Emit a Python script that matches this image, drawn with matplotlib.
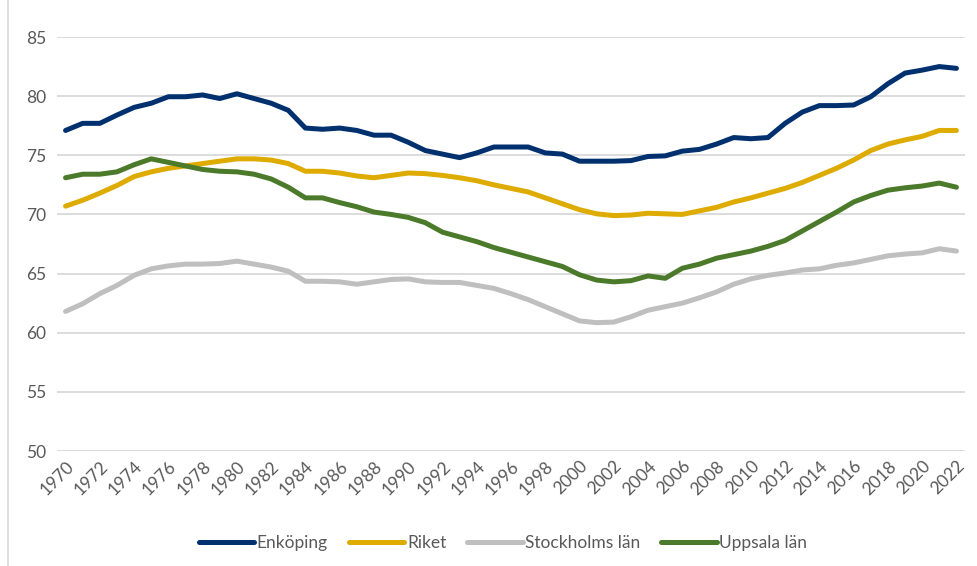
import matplotlib
matplotlib.use('Agg')
import matplotlib.pyplot as plt
from matplotlib.lines import Line2D

years = list(range(1970, 2023))

enkoping = [
    77.1, 77.7, 77.7, 78.4, 79.05, 79.4, 79.95, 79.95, 80.1, 79.8,
    80.2, 79.8, 79.4, 78.8, 77.3, 77.2, 77.3, 77.1, 76.7, 76.7,
    76.1, 75.4, 75.1, 74.8, 75.2, 75.7, 75.7, 75.7, 75.2, 75.1,
    74.5, 74.5, 74.5, 74.55, 74.9, 74.95, 75.35, 75.5, 75.95, 76.5,
    76.4, 76.5, 77.7, 78.65, 79.2, 79.2, 79.25, 79.95, 81.05, 81.95,
    82.2, 82.5, 82.35
]
riket = [
    70.7, 71.2, 71.8, 72.45, 73.2, 73.6, 73.9, 74.1, 74.3, 74.5,
    74.7, 74.7, 74.6, 74.3, 73.65, 73.65, 73.5, 73.25, 73.1, 73.3,
    73.5, 73.45, 73.3, 73.1, 72.85, 72.5, 72.2, 71.9, 71.4, 70.9,
    70.4, 70.05, 69.9, 69.95, 70.1, 70.05, 70.0, 70.3, 70.6, 71.05,
    71.4, 71.8, 72.2, 72.7, 73.3, 73.9, 74.6, 75.4, 75.95, 76.3,
    76.6, 77.1, 77.1
]
stockholm = [
    61.8, 62.45, 63.3, 64.0, 64.85, 65.4, 65.65, 65.8, 65.8, 65.85,
    66.05, 65.8, 65.55, 65.2, 64.35, 64.35, 64.3, 64.1, 64.3, 64.5,
    64.55, 64.3, 64.25, 64.25, 64.0, 63.75, 63.3, 62.8, 62.2, 61.6,
    61.0, 60.85, 60.9, 61.35, 61.9, 62.2, 62.5, 62.95, 63.45, 64.1,
    64.55, 64.85, 65.05, 65.3, 65.4, 65.7, 65.9, 66.2, 66.5, 66.65,
    66.75, 67.1, 66.9
]
uppsala = [
    73.1, 73.4, 73.4, 73.6, 74.2, 74.7, 74.4, 74.1, 73.8, 73.65,
    73.6, 73.4, 73.0, 72.3, 71.4, 71.4, 71.0, 70.65, 70.2, 70.0,
    69.75, 69.3, 68.5, 68.1, 67.7, 67.2, 66.8, 66.4, 66.0, 65.6,
    64.9, 64.45, 64.3, 64.4, 64.8, 64.6, 65.45, 65.8, 66.3, 66.6,
    66.9, 67.3, 67.8, 68.6, 69.4, 70.2, 71.05, 71.6, 72.05, 72.25,
    72.4, 72.65, 72.3
]

labels = ['Enköping', 'Riket', 'Stockholms län', 'Uppsala län']
colors = ['#00306E', '#DEAB00', '#BFBFBF', '#4A7A2A']

plt.rcParams['font.family'] = ['Lato', 'DejaVu Sans']

fig = plt.figure(figsize=(9.78, 5.66), dpi=100)
ax = fig.add_axes([57 / 978, 1 - 451 / 566, 908 / 978, 414 / 566])

for series, label, color in zip([enkoping, riket, stockholm, uppsala], labels, colors):
    ax.plot(years, series, color=color, lw=3.6, label=label,
            solid_capstyle='round', solid_joinstyle='round', zorder=3)

ax.set_xlim(1969.5, 2022.5)
ax.set_ylim(50, 85)
ax.set_yticks(range(50, 90, 5))
ax.set_xticks(range(1970, 2023, 2))
ax.set_xticklabels([str(y) for y in range(1970, 2023, 2)], rotation=45,
                   ha='right', va='top', rotation_mode='anchor')
ax.grid(axis='y', color='#D9D9D9', lw=1.3, zorder=0)
ax.tick_params(axis='both', length=0, labelsize=12.5, colors='#595959')
ax.tick_params(axis='y', pad=8)
ax.tick_params(axis='x', pad=5)
for s in ax.spines.values():
    s.set_visible(False)

fig.add_artist(Line2D([8 / 978, 8 / 978], [0, 1], color='#D9D9D9', lw=1.2))

fig.legend(loc='center', bbox_to_anchor=(503 / 978, 1 - 543 / 566), ncol=4,
           frameon=False, fontsize=12.5, handlelength=3.2, handletextpad=0.15,
           columnspacing=1.2, labelcolor='#595959')

fig.savefig('out.png', dpi=100)
